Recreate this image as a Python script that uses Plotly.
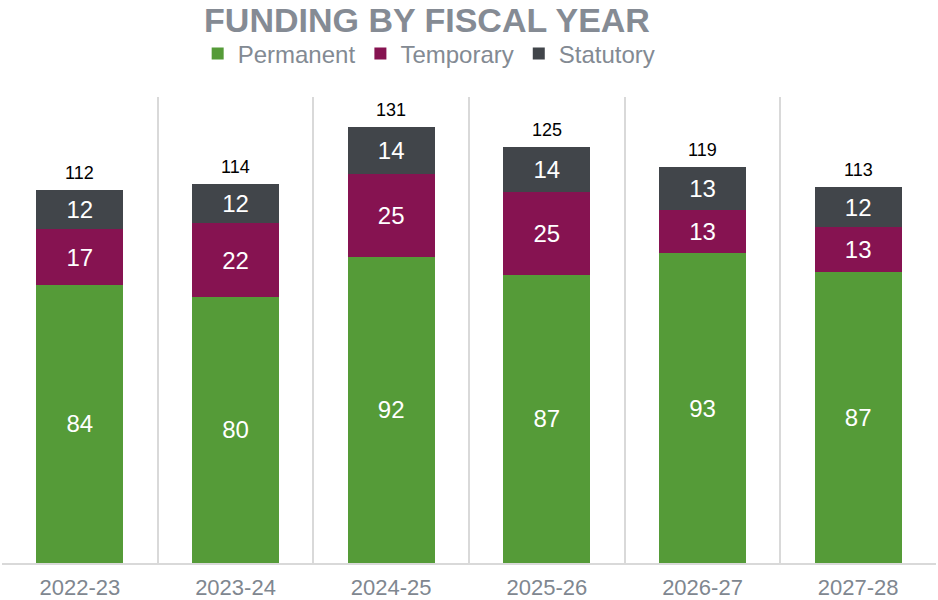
import plotly.graph_objects as go

years = ["2022-23", "2023-24", "2024-25", "2025-26", "2026-27", "2027-28"]
permanent = [83.6, 80.0, 92.0, 86.6, 93.0, 87.4]
temporary = [16.6, 22.0, 25.0, 24.8, 13.0, 13.4]
statutory = [11.8, 12.0, 14.0, 13.6, 13.0, 12.2]
totals = [112, 114, 131, 125, 119, 113]

series = [
    ("Permanent", permanent, "#559B38"),
    ("Temporary", temporary, "#861351"),
    ("Statutory", statutory, "#41454A"),
]

fig = go.Figure()
for name, vals, color in series:
    fig.add_trace(go.Bar(
        name=name, x=years, y=vals, marker_color=color, marker_line_width=0,
        text=vals, texttemplate="%{y:.0f}", textposition="inside",
        insidetextanchor="middle",
        textfont=dict(family="Liberation Sans, Arial", size=24, color="white"),
    ))

for yr, tot in zip(years, totals):
    fig.add_annotation(x=yr, y=tot, text=str(tot), showarrow=False,
                       yanchor="bottom", yshift=5,
                       font=dict(family="Liberation Sans, Arial", size=18, color="black"))

fig.update_layout(
    width=938, height=600,
    barmode="stack", bargap=0.44,
    paper_bgcolor="white", plot_bgcolor="white",
    margin=dict(l=2, r=2, t=97, b=37),
    title=dict(text="<b>FUNDING BY FISCAL YEAR</b>", x=427/938, xanchor="center",
               yref="container", y=1 - 20/600, yanchor="middle",
               font=dict(family="Liberation Sans, Arial", size=34, color="#858B94")),
    legend=dict(orientation="h", x=429/938, xanchor="center", y=1 + 43/466, yanchor="middle",
                font=dict(family="Liberation Sans, Arial", size=24, color="#838A93"),
                traceorder="normal", itemwidth=30),
    showlegend=True,
)
fig.update_xaxes(
    showgrid=True, gridcolor="#D9D9D9", gridwidth=2, tickson="boundaries",
    showline=True, linecolor="#D9D9D9", linewidth=2, ticks="",
    tickfont=dict(family="Liberation Sans, Arial", size=22, color="#7F8790"),
    ticklabelstandoff=4, automargin=False,
)
fig.update_yaxes(visible=False, range=[0, 140])

fig.write_html("out.html")
